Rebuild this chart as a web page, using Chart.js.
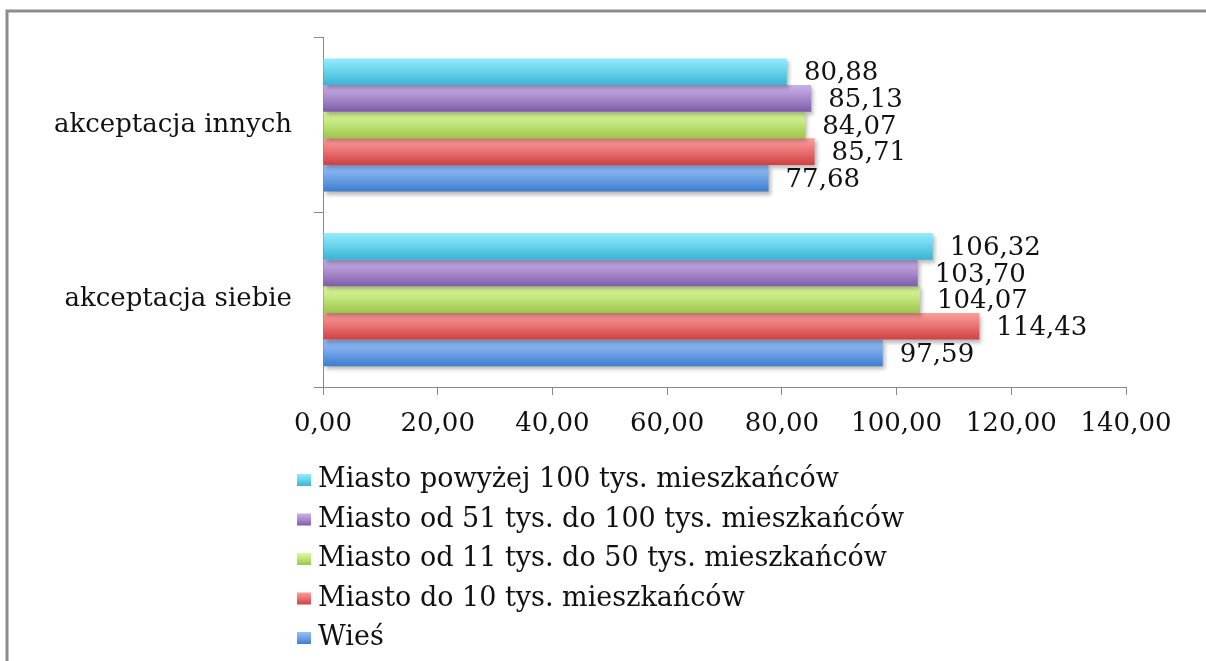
<!DOCTYPE html>
<html lang="pl">
<head>
<meta charset="utf-8">
<title>Akceptacja</title>
<script src="https://cdn.jsdelivr.net/npm/chart.js@4.4.1/dist/chart.umd.min.js"></script>
<style>
  html, body { margin: 0; padding: 0; background: #fff; overflow: hidden; }
  #wrap { width: 1206px; height: 661px; position: relative; }
</style>
</head>
<body>
<div id="wrap"><canvas id="chart"></canvas></div>
<script>
// Categories and series
const categories = ['akceptacja innych', 'akceptacja siebie'];
const seriesNames = [
  'Miasto powyżej 100 tys. mieszkańców',
  'Miasto od 51 tys. do 100 tys. mieszkańców',
  'Miasto od 11 tys. do 50 tys. mieszkańców',
  'Miasto do 10 tys. mieszkańców',
  'Wieś'
];
const powyzej100 = [80.88, 106.32];
const od51do100 = [85.13, 103.70];
const od11do50 = [84.07, 104.07];
const do10 = [85.71, 114.43];
const wies = [77.68, 97.59];
const xMin = 0, xMax = 140, xStep = 20;

// Bar gradient colours (top, middle, bottom)
const gradTop = ['#95ecfc', '#c8b2ea', '#dcfca0', '#fc9f9b', '#99bff9'];
const gradMid = ['#66d2ea', '#a88acb', '#bfe276', '#e87171', '#6fa2e6'];
const gradBottom = ['#3cb2d3', '#7d5ca7', '#9bc54a', '#cf4040', '#3c7dcd'];

const FONT = "'DejaVu Serif', 'Liberation Serif', serif";
const TEXT = '#111111';
const AXIS = '#878787';

const fmt = v => Number(v).toFixed(2).replace('.', ',');

function barGradient(ctx, i, top, bottom) {
  const g = ctx.createLinearGradient(0, top, 0, bottom);
  g.addColorStop(0, gradTop[i]);
  g.addColorStop(0.5, gradMid[i]);
  g.addColorStop(1, gradBottom[i]);
  return g;
}

// Frame: only the left and top edges show in the picture
const framePlugin = {
  id: 'frame',
  beforeDraw(chart) {
    const ctx = chart.ctx;
    ctx.save();
    ctx.strokeStyle = '#8c8c8c';
    ctx.lineWidth = 3;
    ctx.beginPath();
    ctx.moveTo(7, chart.height + 10);
    ctx.lineTo(7, 11);
    ctx.lineTo(chart.width + 10, 11);
    ctx.stroke();
    ctx.restore();
  }
};

// Per-bar vertical gradient and soft shadow
const barStylePlugin = {
  id: 'barStyle',
  beforeDatasetsDraw(chart) {
    const ctx = chart.ctx;
    chart.data.datasets.forEach((ds, i) => {
      chart.getDatasetMeta(i).data.forEach(el => {
        const top = el.y - el.height / 2;
        const g = barGradient(ctx, i, top, top + el.height);
        el.options = Object.assign({}, el.options, { backgroundColor: g });
      });
    });
    ctx.save();
    ctx.shadowColor = 'rgba(0,0,0,0.28)';
    ctx.shadowBlur = 4;
    ctx.shadowOffsetX = 2;
    ctx.shadowOffsetY = 3;
  },
  afterDatasetsDraw(chart) {
    const ctx = chart.ctx;
    ctx.restore();
    // value labels
    ctx.save();
    ctx.font = '26px ' + FONT;
    ctx.fillStyle = TEXT;
    ctx.textAlign = 'left';
    ctx.textBaseline = 'middle';
    chart.data.datasets.forEach((ds, i) => {
      chart.getDatasetMeta(i).data.forEach((el, j) => {
        ctx.fillText(fmt(ds.data[j]), el.x + 17, el.y + 2);
      });
    });
    ctx.restore();
  }
};

// Vertical legend under the axis
const legendPlugin = {
  id: 'listLegend',
  afterDraw(chart) {
    const ctx = chart.ctx;
    const area = chart.chartArea;
    const x0 = area.left - 26;
    const y0 = area.bottom + 93;
    const rowH = 39.5;
    ctx.save();
    ctx.font = '27px ' + FONT;
    ctx.textBaseline = 'middle';
    ctx.textAlign = 'left';
    chart.data.datasets.forEach((ds, i) => {
      const cy = y0 + i * rowH;
      ctx.fillStyle = barGradient(ctx, i, cy - 6, cy + 6);
      ctx.fillRect(x0, cy - 6, 14, 12);
      ctx.fillStyle = TEXT;
      ctx.fillText(ds.label, x0 + 21, cy);
    });
    ctx.restore();
  }
};

const seriesData = [powyzej100, od51do100, od11do50, do10, wies];

new Chart(document.getElementById('chart'), {
  type: 'bar',
  data: {
    labels: categories,
    datasets: seriesNames.map((name, i) => ({
      label: name,
      data: seriesData[i],
      backgroundColor: gradMid[i],
      borderWidth: 0,
      categoryPercentage: 0.762,
      barPercentage: 1
    }))
  },
  options: {
    indexAxis: 'y',
    responsive: true,
    maintainAspectRatio: false,
    animation: false,
    layout: { padding: { left: 0, right: 80, top: 35, bottom: 0 } },
    scales: {
      x: {
        min: xMin,
        max: xMax,
        border: { display: true, color: AXIS, width: 1 },
        grid: { drawOnChartArea: false, drawTicks: true, tickLength: 8, color: AXIS },
        ticks: {
          stepSize: xStep,
          color: TEXT,
          padding: 14,
          maxRotation: 0,
          autoSkip: false,
          font: { family: FONT, size: 26 },
          callback: v => fmt(v)
        },
        afterFit(scale) { scale.height = 274; }
      },
      y: {
        border: { display: true, color: AXIS, width: 1 },
        grid: { drawOnChartArea: false, drawTicks: true, tickLength: 9, color: AXIS, offset: true },
        ticks: {
          color: TEXT,
          padding: 22,
          font: { family: FONT, size: 26 }
        },
        afterFit(scale) { scale.width = 323; }
      }
    },
    plugins: {
      legend: { display: false },
      tooltip: { enabled: false }
    }
  },
  plugins: [framePlugin, barStylePlugin, legendPlugin]
});
</script>
</body>
</html>
